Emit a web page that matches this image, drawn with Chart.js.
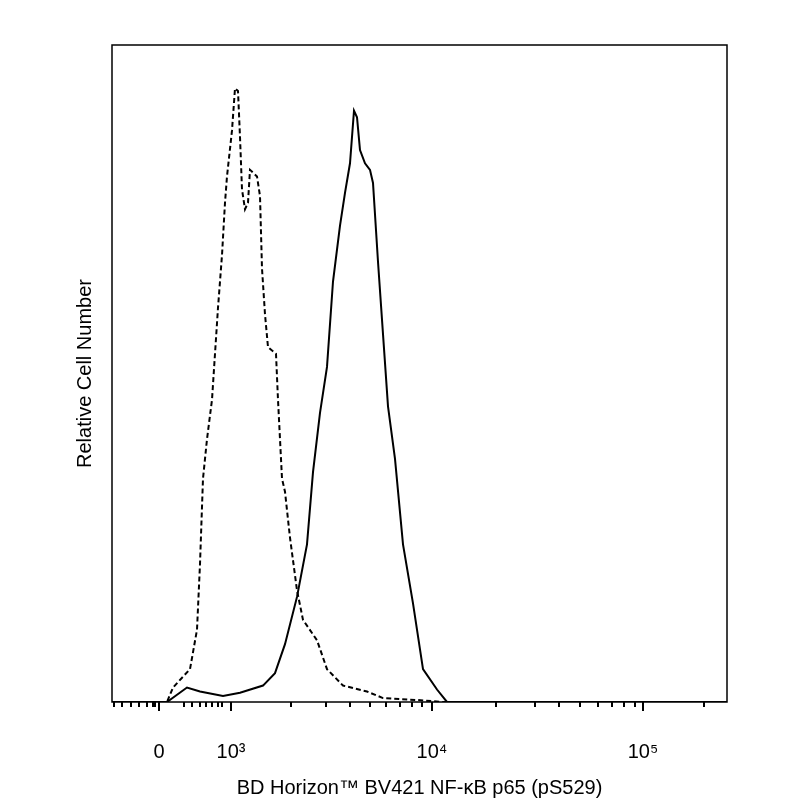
<!DOCTYPE html>
<html>
<head>
<meta charset="utf-8">
<script src="https://cdn.jsdelivr.net/npm/chart.js@4"></script>
<style>
  html, body { margin: 0; padding: 0; background: #fff; }
  #wrap { width: 800px; height: 800px; }
</style>
</head>
<body>
<div id="wrap"><canvas id="c" width="800" height="800"></canvas></div>
<script>
// x values are display channels of the biexponential axis (0 at 159, 10^3 at 231 ...)
const majorTicks = [159, 231, 432, 643]
const majorLabels = ["0", "10³", "10⁴", "10⁵"]
const minorTicks = [114, 122, 131, 139, 147, 153, 155, 184, 192, 200, 206, 212, 218, 222,
                    291, 326, 350, 370, 386, 400, 412, 422,
                    496, 535, 559, 580, 598, 612, 624, 635, 704]

// isotype control (dashed)
const controlX = [112, 160, 167, 173, 190, 197, 200, 203, 207, 212, 215, 218, 222, 225, 227, 232, 235, 238, 240, 242, 245, 248, 250, 257, 260, 262, 265, 268, 276, 278, 282, 285, 290, 297, 303, 317, 327, 343, 367, 383, 417, 443, 727]
const controlY = [0, 0, 0, 2.2, 5, 11, 21, 34, 40, 46, 53, 60, 68, 76, 80, 87, 93.4, 93, 86, 78, 75, 76, 81, 80, 77, 66, 59, 54, 53, 46, 34, 32, 25, 17, 12.5, 9.4, 5, 2.5, 1.6, 0.6, 0.3, 0, 0]

// stained sample (solid)
const sampleX = [112, 160, 167, 187, 200, 223, 240, 263, 275, 285, 297, 307, 313, 320, 327, 333, 340, 345, 350, 354, 357, 360, 365, 370, 373, 378, 383, 388, 395, 403, 413, 423, 437, 447, 727]
const sampleY = [0, 0, 0, 2.2, 1.6, 0.9, 1.4, 2.5, 4.4, 8.8, 16, 24, 35, 44, 51, 64, 72.5, 77.5, 82, 90, 89, 84, 82, 81, 79, 67, 56, 45, 37, 24, 15, 5, 1.9, 0, 0]

const toPoints = (xs, ys) => xs.map((x, i) => ({ x: x, y: ys[i] }))

const axisTicks = {
    id: "axisTicks",
    afterDraw(chart) {
        const ctx = chart.ctx
        const a = chart.chartArea
        const xs = chart.scales.x
        ctx.save()
        ctx.strokeStyle = "#000"
        ctx.lineWidth = 1.5
        ctx.strokeRect(a.left, a.top, a.right - a.left, a.bottom - a.top)
        ctx.lineWidth = 2
        ctx.beginPath()
        for (let v of majorTicks) {
            const p = xs.getPixelForValue(v)
            ctx.moveTo(p, a.bottom); ctx.lineTo(p, a.bottom + 9)
        }
        for (let v of minorTicks) {
            const p = xs.getPixelForValue(v)
            ctx.moveTo(p, a.bottom); ctx.lineTo(p, a.bottom + 5)
        }
        ctx.stroke()
        ctx.restore()
    }
}

const font = "'Liberation Sans', Arial, sans-serif"

new Chart(document.getElementById("c").getContext("2d"), {
    type: "line",
    data: {
        datasets: [
            { label: "control", data: toPoints(controlX, controlY), borderColor: "#000", borderWidth: 2, borderDash: [5, 3], pointRadius: 0, tension: 0, fill: false },
            { label: "sample", data: toPoints(sampleX, sampleY), borderColor: "#000", borderWidth: 2, pointRadius: 0, tension: 0, fill: false }
        ]
    },
    options: {
        responsive: false,
        animation: false,
        layout: { padding: { top: 45, right: 73, left: 73, bottom: 0 } },
        plugins: { legend: { display: false }, tooltip: { enabled: false } },
        scales: {
            x: {
                type: "linear", min: 112, max: 727,
                afterBuildTicks: s => { s.ticks = majorTicks.map(v => ({ value: v })) },
                afterFit: s => { s.height = 98 },
                grid: { display: false, drawTicks: false },
                border: { display: false },
                ticks: {
                    autoSkip: false, maxRotation: 0, padding: 38, color: "#000",
                    font: { family: font, size: 20 },
                    callback: (v) => majorLabels[majorTicks.indexOf(v)]
                },
                title: { display: true, text: "BD Horizon™ BV421 NF-κB p65 (pS529)", color: "#000", font: { family: font, size: 20 }, padding: { top: 0, bottom: 0 } }
            },
            y: {
                min: 0, max: 100,
                afterFit: s => { s.width = 39 },
                grid: { display: false },
                border: { display: false },
                ticks: { display: false },
                title: { display: true, text: "Relative Cell Number", color: "#000", font: { family: font, size: 20 }, padding: 0 }
            }
        }
    },
    plugins: [axisTicks]
})
</script>
</body>
</html>
